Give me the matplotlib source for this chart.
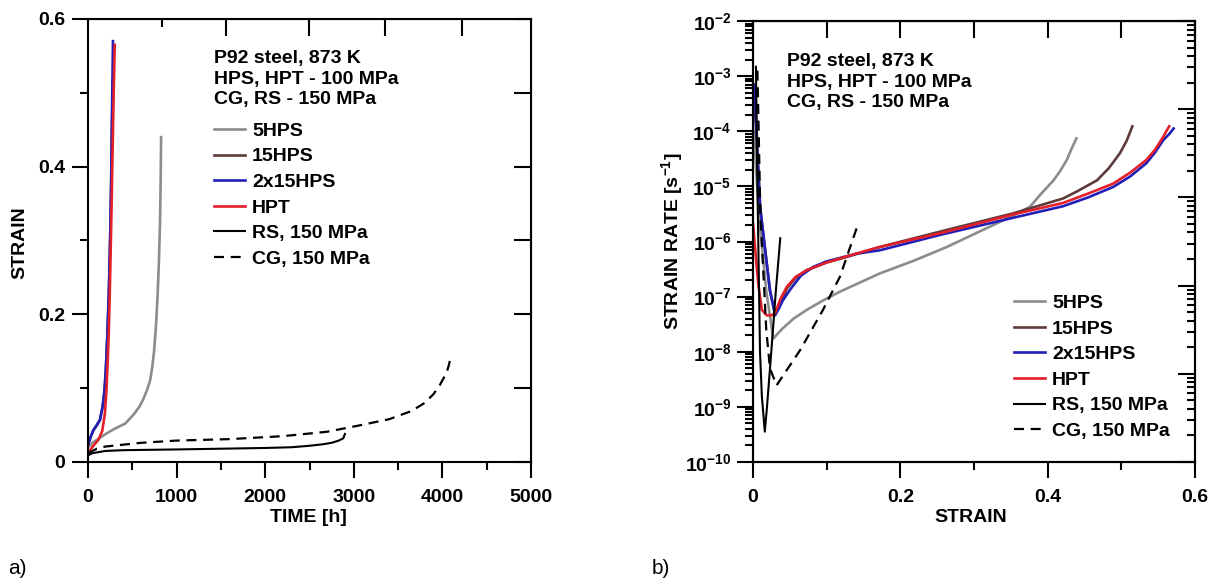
import numpy as np
import matplotlib
matplotlib.use("Agg")
import matplotlib.pyplot as plt
from matplotlib.ticker import MultipleLocator, LogLocator, NullFormatter, FuncFormatter, FixedLocator

plt.rcParams["font.family"] = ["Liberation Sans", "DejaVu Sans"]
plt.rcParams["font.weight"] = "bold"
plt.rcParams["axes.unicode_minus"] = False
plt.rcParams["mathtext.fontset"] = "custom"
plt.rcParams["mathtext.rm"] = "Liberation Sans:bold"
plt.rcParams["mathtext.it"] = "Liberation Sans:bold"
plt.rcParams["mathtext.bf"] = "Liberation Sans:bold"

# ---- a) creep curves: time [h] vs strain ----
t_5hps = [0, 50, 100, 200, 300, 420, 520, 580, 620, 665, 700, 725, 745, 765, 785, 800, 813, 820, 825]
s_5hps = [0.02, 0.026, 0.03, 0.038, 0.045, 0.052, 0.065, 0.075, 0.084, 0.097, 0.11, 0.128,
          0.149, 0.18, 0.224, 0.27, 0.325, 0.38, 0.44]

t_15hps = [0, 30, 60, 100, 135, 165, 185, 201, 218, 234, 245, 254, 261, 266, 271, 275, 279]
s_15hps = [0.023, 0.034, 0.043, 0.050, 0.057, 0.075, 0.095, 0.124, 0.17, 0.224, 0.275,
           0.325, 0.375, 0.42, 0.46, 0.49, 0.516]

t_2x15hps = [0, 30, 60, 100, 135, 165, 185, 201, 218, 234, 245, 254, 261, 266, 271, 274, 278, 282]
s_2x15hps = [0.023, 0.034, 0.043, 0.050, 0.057, 0.075, 0.095, 0.124, 0.17, 0.224, 0.275,
             0.325, 0.375, 0.425, 0.47, 0.50, 0.535, 0.570]

t_hpt = [0, 60, 117, 161, 190, 209, 222, 234, 245, 254, 265, 274, 282, 290, 296, 302]
s_hpt = [0.012, 0.022, 0.030, 0.042, 0.065, 0.099, 0.135, 0.174, 0.225, 0.275, 0.34,
         0.40, 0.45, 0.50, 0.535, 0.565]

t_rs = [0, 50, 100, 200, 400, 1000, 1500, 2000, 2300, 2500, 2650, 2750, 2830, 2880, 2900]
s_rs = [0.009, 0.012, 0.013, 0.015, 0.016, 0.017, 0.018, 0.019, 0.020, 0.022, 0.024,
        0.026, 0.029, 0.032, 0.038]

t_cg = [0, 100, 200, 600, 1000, 1600, 2200, 2700, 3040, 3400, 3650, 3800, 3900, 3970, 4020,
        4050, 4070, 4094]
s_cg = [0.012, 0.018, 0.021, 0.026, 0.029, 0.031, 0.035, 0.041, 0.049, 0.058, 0.069, 0.08,
        0.092, 0.104, 0.115, 0.122, 0.13, 0.142]

# top-axis tick marks of panel a (they do not follow the 500 h grid)
top_minor_a = [835]
top_major_a = [1560, 2495, 3350, 4220]

# ---- b) strain vs log10(strain rate [1/s]) ----
e_5hps = [0.001, 0.008, 0.018, 0.0276, 0.033, 0.04, 0.055, 0.073, 0.095, 0.118, 0.172, 0.218,
          0.263, 0.331, 0.35, 0.376, 0.39, 0.408, 0.417, 0.426, 0.432, 0.439]
lr_5hps = [-4.0, -5.5, -6.9, -7.76, -7.68, -7.58, -7.40, -7.24, -7.07, -6.91, -6.58, -6.35,
           -6.10, -5.67, -5.55, -5.37, -5.15, -4.89, -4.72, -4.52, -4.33, -4.13]

e_15hps = [0.001, 0.01, 0.023, 0.030, 0.035, 0.040, 0.046, 0.058, 0.073, 0.10, 0.13, 0.172,
           0.263, 0.353, 0.421, 0.44, 0.467, 0.483, 0.498, 0.507, 0.515]
lr_15hps = [-3.2, -5.4, -6.9, -7.30, -7.2, -7.05, -6.85, -6.66, -6.52, -6.38, -6.27, -6.10,
            -5.79, -5.49, -5.22, -5.09, -4.89, -4.67, -4.40, -4.18, -3.91]

e_2x15hps = [0.002, 0.0095, 0.023, 0.030, 0.035, 0.040, 0.050, 0.065, 0.082, 0.10, 0.141, 0.172,
             0.254, 0.353, 0.421, 0.455, 0.489, 0.512, 0.534, 0.546, 0.557, 0.565, 0.571]
lr_2x15hps = [-3.15, -5.37, -6.88, -7.34, -7.22, -7.08, -6.88, -6.62, -6.46, -6.36, -6.22, -6.16,
              -5.88, -5.57, -5.36, -5.2, -5.01, -4.82, -4.58, -4.38, -4.16, -4.05, -3.95]

e_hpt = [0.0, 0.007, 0.012, 0.0186, 0.025, 0.030, 0.037, 0.046, 0.058, 0.073, 0.10, 0.132, 0.172,
         0.254, 0.353, 0.421, 0.455, 0.489, 0.512, 0.534, 0.546, 0.557, 0.561, 0.565]
lr_hpt = [-5.67, -6.76, -7.24, -7.34, -7.34, -7.30, -7.05, -6.82, -6.64, -6.52, -6.38, -6.25, -6.10,
          -5.85, -5.51, -5.30, -5.13, -4.95, -4.75, -4.52, -4.33, -4.10, -4.0, -3.91]

e_rs = [0.004, 0.006, 0.0095, 0.012, 0.016, 0.019, 0.025, 0.031, 0.037]
lr_rs = [-2.83, -5.0, -8.0, -8.8, -9.45, -9.0, -7.97, -6.9, -5.94]

e_cg = [0.006, 0.010, 0.018, 0.023, 0.032, 0.064, 0.095, 0.118, 0.143]
lr_cg = [-2.9, -5.5, -7.6, -8.3, -8.61, -7.97, -7.24, -6.64, -5.67]

labels = ["5HPS", "15HPS", "2x15HPS", "HPT", "RS, 150 MPa", "CG, 150 MPa"]
colors = ["#8c8c8c", "#5e3a3a", "#2020b8", "#e3202a", "black", "black"]
styles = ["-", "-", "-", "-", "-", (0, (4.5, 3))]
widths = [1.9, 1.9, 1.9, 1.9, 1.5, 1.6]

note = "P92 steel, 873 K\nHPS, HPT - 100 MPa\nCG, RS - 150 MPa"
FS = 14

W, H = 1213, 580
fig = plt.figure(figsize=(W / 100, H / 100), dpi=100)
axa = fig.add_axes([88 / W, 1 - 462 / H, 443 / W, 443 / H])
axb = fig.add_axes([753 / W, 1 - 462 / H, 442 / W, 441 / H])

for ax in (axa, axb):
    for sp in ax.spines.values():
        sp.set_linewidth(1.5)

leg_kw = dict(loc="upper left", frameon=False, fontsize=FS, handlelength=1.6,
              handletextpad=0.36, labelspacing=0.41, borderpad=0, borderaxespad=0)

# ---------------- panel a ----------------
series_a = [(t_5hps, s_5hps), (t_15hps, s_15hps), (t_2x15hps, s_2x15hps),
            (t_hpt, s_hpt), (t_rs, s_rs), (t_cg, s_cg)]
for (x, y), lab, c, ls, lw in zip(series_a, labels, colors, styles, widths):
    axa.plot(x, y, color=c, ls=ls, lw=lw, label=lab)

axa.set_xlim(0, 5000)
axa.set_ylim(0, 0.6)
axa.xaxis.set_major_locator(MultipleLocator(1000))
axa.xaxis.set_minor_locator(MultipleLocator(500))
axa.yaxis.set_major_locator(MultipleLocator(0.2))
axa.yaxis.set_minor_locator(MultipleLocator(0.1))
axa.yaxis.set_major_formatter(FuncFormatter(lambda v, p: "0" if abs(v) < 1e-9 else f"{v:g}"))
axa.tick_params(which="major", direction="out", length=11.5, width=1.5, labelsize=FS)
axa.tick_params(which="minor", direction="out", length=5.8, width=1.5)
axa.tick_params(axis="x", pad=8)
axa.tick_params(axis="y", pad=5)

sa_r = axa.secondary_yaxis("right")
sa_r.yaxis.set_major_locator(MultipleLocator(0.1))
sa_r.tick_params(direction="in", length=12, width=1.5, labelright=False, labelleft=False)
sa_t = axa.secondary_xaxis("top")
sa_t.xaxis.set_major_locator(FixedLocator(top_major_a))
sa_t.xaxis.set_minor_locator(FixedLocator(top_minor_a))
sa_t.tick_params(which="major", direction="in", length=12, width=1.5, labeltop=False, labelbottom=False)
sa_t.tick_params(which="minor", direction="in", length=5.8, width=1.5)

axa.text(0.284, 0.930, note, transform=axa.transAxes, fontsize=FS,
         va="top", ha="left", linespacing=1.27)
axa.legend(bbox_to_anchor=(0.284, 0.767), **leg_kw)

fig.text(20 / W, 1 - 243 / H, "STRAIN", rotation=90, ha="center", va="center", fontsize=FS)
fig.text(308 / W, 1 - 518 / H, "TIME [h]", ha="center", va="center", fontsize=FS)

# ---------------- panel b ----------------
series_b = [(e_5hps, lr_5hps), (e_15hps, lr_15hps), (e_2x15hps, lr_2x15hps),
            (e_hpt, lr_hpt), (e_rs, lr_rs), (e_cg, lr_cg)]
for (x, y), lab, c, ls, lw in zip(series_b, labels, colors, styles, widths):
    axb.plot(x, 10 ** np.array(y), color=c, ls=ls, lw=lw, label=lab)

axb.set_yscale("log")
axb.set_xlim(0, 0.6)
axb.set_ylim(1e-10, 1e-2)
axb.yaxis.set_major_locator(LogLocator(base=10, numticks=20))
axb.yaxis.set_minor_locator(LogLocator(base=10, subs=np.arange(2, 10), numticks=100))
axb.yaxis.set_minor_formatter(NullFormatter())
axb.xaxis.set_major_locator(MultipleLocator(0.2))
axb.xaxis.set_minor_locator(MultipleLocator(0.1))
axb.xaxis.set_major_formatter(FuncFormatter(lambda v, p: "0" if abs(v) < 1e-9 else f"{v:g}"))
axb.tick_params(which="major", direction="out", length=11.5, width=1.5, labelsize=FS)
axb.tick_params(which="minor", direction="out", length=5.8, width=1.5)
axb.tick_params(axis="x", pad=8)
axb.tick_params(axis="y", pad=4)

tw = axb.twinx()
tw.set_yscale("log")
tw.set_ylim(1e-5, 1)
tw.yaxis.set_major_locator(LogLocator(base=10, numticks=20))
tw.yaxis.set_minor_locator(LogLocator(base=10, subs=np.arange(2, 10), numticks=100))
tw.tick_params(which="major", direction="in", length=12, width=1.5, labelright=False)
tw.tick_params(which="minor", direction="in", length=6, width=1.5, labelright=False)
for sp in tw.spines.values():
    sp.set_linewidth(1.5)

sb_t = axb.secondary_xaxis("top")
sb_t.xaxis.set_major_locator(MultipleLocator(0.1))
sb_t.tick_params(direction="in", length=12, width=1.5, labeltop=False, labelbottom=False)

axb.text(0.077, 0.927, note, transform=axb.transAxes, fontsize=FS,
         va="top", ha="left", linespacing=1.27)
axb.legend(bbox_to_anchor=(0.59, 0.380), **leg_kw)

fig.text(672 / W, 1 - 241 / H, r"STRAIN RATE [s$^{-1}$]", rotation=90, ha="center",
         va="center", fontsize=FS)
fig.text(971 / W, 1 - 518 / H, "STRAIN", ha="center", va="center", fontsize=FS)

fig.text(8 / W, 1 - 569 / H, "a)", fontsize=15, fontweight="normal", va="center", ha="left")
fig.text(652 / W, 1 - 568 / H, "b)", fontsize=15, fontweight="normal", va="center", ha="left")

fig.savefig("out.png", dpi=100)
